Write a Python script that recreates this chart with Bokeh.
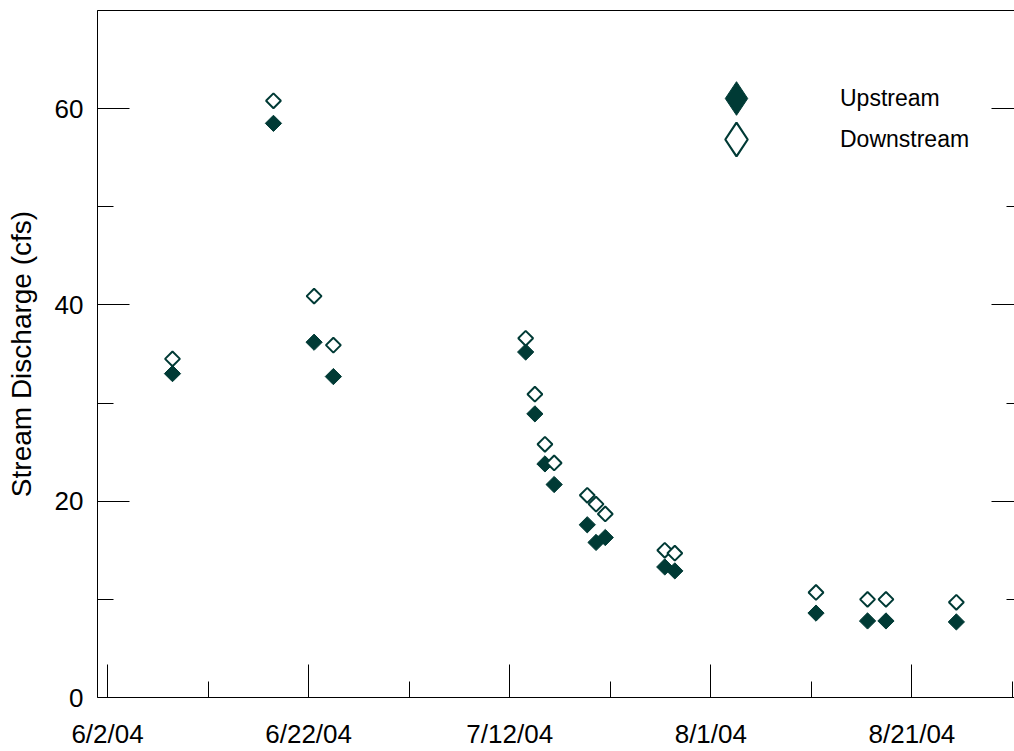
import numpy as np
import pandas as pd
from bokeh.plotting import figure
from bokeh.models import (ColumnDataSource, FixedTicker, LinearAxis, Legend,
                          LegendItem, Range1d)
from bokeh.embed import file_html
from bokeh.resources import INLINE

# ---------------- data ----------------
sample_times = ["2004-06-08 11:00", "2004-06-18 12:00", "2004-06-22 13:00",
                "2004-06-24 11:00", "2004-07-13 14:00", "2004-07-14 12:00",
                "2004-07-15 12:00", "2004-07-16 10:00", "2004-07-19 17:00",
                "2004-07-20 14:00", "2004-07-21 12:00", "2004-07-27 10:00",
                "2004-07-28 10:00", "2004-08-11 11:00", "2004-08-16 14:00",
                "2004-08-18 10:00", "2004-08-25 10:00"]
upstream = [33.0, 58.5, 36.2, 32.7, 35.2, 28.9, 23.8, 21.7, 17.6,
            15.8, 16.3, 13.3, 12.9, 8.6, 7.8, 7.8, 7.7]
downstream = [34.5, 60.8, 40.9, 35.9, 36.6, 30.9, 25.8, 23.9, 20.6,
              19.7, 18.7, 15.0, 14.7, 10.7, 10.0, 10.0, 9.7]
series_names = ["Upstream", "Downstream"]

x_tick_dates = ["2004-06-02", "2004-06-22", "2004-07-12", "2004-08-01", "2004-08-21"]
x_tick_labels = ["6/2/04", "6/22/04", "7/12/04", "8/1/04", "8/21/04"]
x_minor_dates = ["2004-06-12", "2004-07-02", "2004-07-22", "2004-08-11", "2004-08-31"]
y_ticks = [0, 20, 40, 60]
y_minor_ticks = [10, 30, 50, 70]
y_title = "Stream Discharge (cfs)"

# ---------------- styling ----------------
COLOR = "#003a35"
FONT = "Liberation Sans"


def to_ms(vals):
    idx = pd.to_datetime(vals)
    return [float((t - pd.Timestamp("1970-01-01")) / pd.Timedelta("1ms")) for t in idx]


src = ColumnDataSource(dict(t=pd.to_datetime(sample_times), up=upstream, down=downstream))

x_start = pd.Timestamp("2004-06-01")
x_end = x_start + pd.Timedelta(days=91.2)

p = figure(width=1014, height=751, x_axis_type="datetime",
           x_range=Range1d(x_start, x_end), y_range=Range1d(0, 70),
           output_backend="svg", toolbar_location=None,
           min_border_left=97, min_border_right=0, min_border_top=10,
           min_border_bottom=52)
p.outline_line_color = None
p.grid.visible = False
p.background_fill_color = "white"
p.border_fill_color = "white"

r_up = p.scatter("t", "up", source=src, marker="square", size=11.5, angle=np.pi / 4,
                 fill_color=COLOR, line_color=COLOR, line_width=1)
r_down = p.scatter("t", "down", source=src, marker="square", size=10.5, angle=np.pi / 4,
                   fill_color="white", line_color=COLOR, line_width=2)

# legend-only glyphs (a single undrawn NaN point) drawn as diamonds
leg_src = ColumnDataSource(dict(t=[x_start], v=[np.nan]))
leg_up = p.scatter("t", "v", source=leg_src, marker="diamond", fill_color=COLOR,
                   line_color=COLOR, line_width=1)
leg_down = p.scatter("t", "v", source=leg_src, marker="diamond", fill_color="white",
                     line_color=COLOR, line_width=2.2)

# x axis
xt = to_ms(x_tick_dates)
xa = p.xaxis[0]
xa.ticker = FixedTicker(ticks=xt, minor_ticks=to_ms(x_minor_dates))
xa.major_label_overrides = {k: v for k, v in zip(xt, x_tick_labels)}
xa.major_tick_in = 33
xa.major_tick_out = 0
xa.minor_tick_in = 16
xa.minor_tick_out = 0
xa.major_label_standoff = 21
xa.major_label_text_font = FONT
xa.major_label_text_font_size = "26px"
xa.major_label_text_color = "black"
xa.axis_line_color = "black"
xa.major_tick_line_color = "black"
xa.minor_tick_line_color = "black"

# left y axis
ya = p.yaxis[0]
ya.ticker = FixedTicker(ticks=y_ticks, minor_ticks=y_minor_ticks)
ya.major_tick_in = 32
ya.major_tick_out = 0
ya.minor_tick_in = 16
ya.minor_tick_out = 0
ya.major_label_standoff = 14
ya.major_label_text_font = FONT
ya.major_label_text_font_size = "26px"
ya.major_label_text_color = "black"
ya.axis_label = y_title
ya.axis_label_text_font = FONT
ya.axis_label_text_font_size = "28px"
ya.axis_label_text_font_style = "normal"
ya.axis_label_text_color = "black"
ya.axis_label_standoff = 15
ya.axis_line_color = "black"
ya.major_tick_line_color = "black"
ya.minor_tick_line_color = "black"

# right axis (ticks only)
ra = LinearAxis(ticker=FixedTicker(ticks=y_ticks, minor_ticks=y_minor_ticks),
                major_tick_in=23, major_tick_out=0, minor_tick_in=8, minor_tick_out=0,
                axis_line_color=None, major_tick_line_color="black",
                minor_tick_line_color="black", major_label_standoff=0,
                major_label_overrides={float(v): "" for v in y_ticks})
p.add_layout(ra, "right")

# top border
ta = LinearAxis(ticker=FixedTicker(ticks=[], minor_ticks=[]),
                major_tick_in=0, major_tick_out=0, minor_tick_in=0, minor_tick_out=0,
                axis_line_color="black", major_label_standoff=0)
p.add_layout(ta, "above")

# legends (one per entry)
for name, rend, y_off in [(series_names[0], leg_up, 557), (series_names[1], leg_down, 516)]:
    lg = Legend(items=[LegendItem(label=name, renderers=[rend])],
                location=(597, y_off), glyph_width=84, glyph_height=84,
                label_standoff=62, padding=0, margin=0, spacing=0,
                border_line_color=None, background_fill_alpha=0,
                label_text_font=FONT, label_text_font_size="23px",
                label_text_color="black")
    p.add_layout(lg, "center")

open("out.html", "w").write(file_html(p, INLINE))
